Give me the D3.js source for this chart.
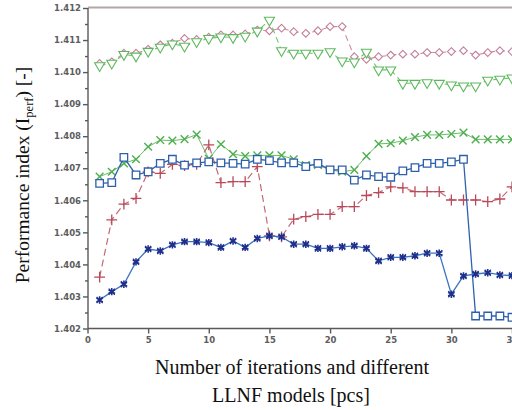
<!DOCTYPE html>
<html><head><meta charset="utf-8">
<script src="https://cdn.jsdelivr.net/npm/d3@7"></script>
<style>
html,body{margin:0;padding:0;background:#fff;overflow:hidden}
svg{display:block}
</style></head>
<body>
<svg id="chart" width="512" height="410"></svg>
<script>
const iterations = [1,2,3,4,5,6,7,8,9,10,11,12,13,14,15,16,17,18,19,20,21,22,23,24,25,26,27,28,29,30,31,32,33,34,35];
const diamondSeries = [1.41027,1.41032,1.41059,1.41059,1.41071,1.41085,1.4109,1.41105,1.41102,1.41109,1.41116,1.41116,1.41119,1.41131,1.41129,1.41137,1.41126,1.41121,1.41129,1.41142,1.41142,1.41048,1.4104,1.41048,1.41053,1.41056,1.41056,1.41061,1.41061,1.41064,1.41067,1.41053,1.41061,1.41067,1.41064];
const triangleSeries = [1.4102,1.41028,1.41055,1.4105,1.41065,1.41078,1.41088,1.41081,1.41095,1.41105,1.4111,1.41108,1.41112,1.41128,1.41162,1.41067,1.41059,1.41059,1.41059,1.41064,1.41035,1.41032,1.41062,1.41007,1.41007,1.40965,1.40965,1.40967,1.40965,1.4096,1.40957,1.40957,1.40975,1.40978,1.40982];
const crossSeries = [1.40674,1.40689,1.40715,1.40728,1.40767,1.40788,1.40786,1.40791,1.40805,1.4073,1.40775,1.40744,1.40738,1.4074,1.4074,1.4074,1.40728,1.4071,1.4071,1.40695,1.40689,1.40695,1.40738,1.40776,1.40778,1.40786,1.40797,1.40804,1.40804,1.40807,1.40811,1.4079,1.4079,1.4079,1.4079];
const squareSeries = [1.40653,1.40655,1.40734,1.40679,1.40689,1.40715,1.40728,1.4071,1.40717,1.4072,1.40717,1.40715,1.40713,1.40728,1.40724,1.40717,1.40717,1.40705,1.40715,1.40695,1.40695,1.40663,1.40679,1.40674,1.40672,1.40692,1.40702,1.40715,1.40715,1.4072,1.40728,1.40239,1.40239,1.40239,1.40235];
const plusSeries = [1.4036,1.40539,1.40588,1.40606,1.40689,1.40684,1.40712,1.40708,1.40712,1.40773,1.40655,1.40658,1.40658,1.40705,1.40489,1.40486,1.40541,1.40549,1.40556,1.40556,1.4058,1.4058,1.40615,1.40624,1.40642,1.40639,1.40627,1.40627,1.40627,1.40601,1.40601,1.40601,1.40596,1.40604,1.40642];
const starSeries = [1.40289,1.40315,1.40338,1.40408,1.40448,1.40442,1.40461,1.40471,1.40471,1.40468,1.40453,1.40473,1.40453,1.40481,1.40489,1.40486,1.40463,1.40463,1.4045,1.4045,1.40455,1.40458,1.4045,1.40411,1.40422,1.40422,1.40427,1.40435,1.40435,1.40307,1.40364,1.4037,1.40374,1.40367,1.40365];
const yTickValues = [1.402,1.403,1.404,1.405,1.406,1.407,1.408,1.409,1.410,1.411,1.412];
const yTickLabels = ["1.402","1.403","1.404","1.405","1.406","1.407","1.408","1.409","1.410","1.411","1.412"];
const yMinorTicks = [1.4025,1.4035,1.4045,1.4055,1.4065,1.4075,1.4085,1.4095,1.4105,1.4115];
const xTickValues = [0,5,10,15,20,25,30,35];
const xTickLabels = ["0","5","10","15","20","25","30","35"];

const svg = d3.select("#chart");
const x = d3.scaleLinear().domain([0,35]).range([87.5,512]);
const y = d3.scaleLinear().domain([1.402,1.412]).range([328.5,8]);

// top frame
svg.append("line").attr("x1",88).attr("x2",520).attr("y1",7.5).attr("y2",7.5)
  .attr("stroke","#b0a8a8").attr("stroke-width",2);

const axisColor = "#5a5a5a";
const tickFont = "bold 8.5px 'DejaVu Sans', sans-serif";

const yAxis = svg.append("g").attr("transform","translate(88,0)")
  .call(d3.axisLeft(y).tickValues(yTickValues).tickSize(5).tickPadding(2)
    .tickFormat((d,i)=>yTickLabels[i]));
const yMinor = svg.append("g").attr("transform","translate(88,0)")
  .call(d3.axisLeft(y).tickValues(yMinorTicks).tickSize(3).tickFormat(""));
yMinor.select(".domain").remove();

const xAxis = svg.append("g").attr("transform","translate(0,328.5)")
  .call(d3.axisBottom(x).tickValues(xTickValues).tickSize(5).tickPadding(3)
    .tickFormat((d,i)=>xTickLabels[i]));

[yAxis,yMinor,xAxis].forEach(g=>{
  g.selectAll("path,line").attr("stroke",axisColor).attr("stroke-width",1.4);
  g.selectAll("text").attr("fill","#5d5d5d").style("font",tickFont);
});
yAxis.select(".domain").attr("d","M0,8V328.5");
xAxis.select(".domain").attr("d","M88,0H520");

const lineGen = vals => d3.line().x((d,i)=>x(iterations[i])).y(d=>y(d))(vals);

function drawSeries(vals, o){
  const g = svg.append("g");
  g.append("path").attr("d",lineGen(vals)).attr("fill","none")
    .attr("stroke",o.line).attr("stroke-width",o.lw||1.2)
    .attr("stroke-dasharray",o.dash||null);
  vals.forEach((v,i)=>{
    const cx = x(iterations[i]), cy = y(v);
    o.marker.forEach(m=>{
      g.append("path").attr("d",d3.symbol().type(m.type).size(m.size)())
        .attr("transform",`translate(${cx},${cy})`+(m.rot?` rotate(${m.rot})`:""))
        .attr("fill",m.fill||"none").attr("stroke",o.mark).attr("stroke-width",m.sw||1.1);
    });
  });
}

drawSeries(diamondSeries,{line:"#d48a98",mark:"#c27f9c",dash:"6,4",lw:1.1,
  marker:[{type:d3.symbolDiamond2,size:38,fill:"#fff"}]});
drawSeries(triangleSeries,{line:"#6cc36c",mark:"#5cb85c",dash:"6,4",lw:1.1,
  marker:[{type:d3.symbolTriangle,size:44,fill:"#fff",rot:180}]});
drawSeries(crossSeries,{line:"#66c066",mark:"#4fae4f",lw:1,
  marker:[{type:d3.symbolTimes,size:40,sw:1.4}]});
drawSeries(plusSeries,{line:"#c06a78",mark:"#b84a5a",dash:"7,4",lw:1.2,
  marker:[{type:d3.symbolPlus,size:40,sw:1.3}]});
drawSeries(squareSeries,{line:"#2e62ad",mark:"#2e5fab",lw:1.3,
  marker:[{type:d3.symbolSquare2,size:72,fill:"#fff",sw:1.3}]});
drawSeries(starSeries,{line:"#3a76c0",mark:"#1f2f8c",lw:1.3,
  marker:[{type:d3.symbolAsterisk,size:38,sw:1.6},{type:d3.symbolTimes,size:26,sw:1.3}]});

// axis titles
const serif = "'Liberation Serif','Times New Roman',serif";
const yt = svg.append("text").attr("transform","translate(29,175) rotate(-90)")
  .attr("text-anchor","middle").style("font-family",serif).style("font-size","19.5px").attr("fill","#111");
yt.append("tspan").text("Performance index (I");
yt.append("tspan").attr("dy",4).style("font-size","12.5px").text("perf");
yt.append("tspan").attr("dy",-4).text(") [-]");

svg.append("text").attr("x",292).attr("y",374).attr("text-anchor","middle")
  .style("font-family",serif).style("font-size","20px").attr("fill","#111")
  .text("Number of iterations and different");
svg.append("text").attr("x",291).attr("y",402).attr("text-anchor","middle")
  .style("font-family",serif).style("font-size","20px").attr("fill","#111")
  .text("LLNF models [pcs]");
</script>
</body></html>
